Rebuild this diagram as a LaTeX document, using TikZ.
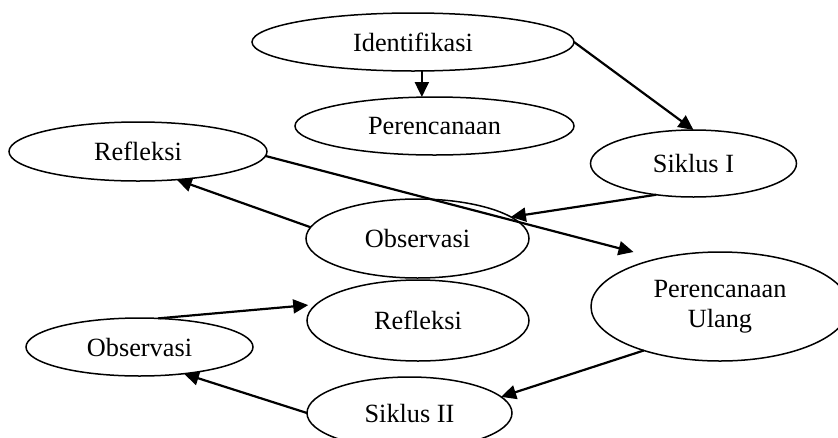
\documentclass[tikz,border=0pt]{standalone}
\usepackage{fontspec}
\setmainfont{Liberation Serif}
\usetikzlibrary{arrows.meta,shapes.geometric}
\begin{document}
\begin{tikzpicture}[x=1pt,y=-1pt,
  ell/.style={draw, ellipse, line width=1.5pt, inner sep=0pt, outer sep=0pt,
    font=\fontsize{26.3}{30.5}\selectfont, align=center},
  arr/.style={line width=2.2pt, -{Triangle[length=15pt,width=14pt]}}]
\clip (0,0) rectangle (838,437);
\node[ell, minimum width=322pt, minimum height=58pt] (ident) at (413,42) {Identifikasi};
\node[ell, minimum width=279pt, minimum height=58pt] (peren) at (434.5,126) {Perencanaan};
\node[ell, minimum width=258pt, minimum height=59pt] (refl1) at (138,151.5) {Refleksi};
\node[ell, minimum width=206pt, minimum height=67pt] (s1) at (693.5,163.5) {Siklus I};
\node[ell, minimum width=223pt, minimum height=79pt] (obs1) at (417.5,238.5) {Observasi};
\node[ell, minimum width=258pt, minimum height=109pt] (pu) at (720,306.5) {Perencanaan\\Ulang};
\node[ell, minimum width=222pt, minimum height=81pt] (refl2) at (418,320.5) {Refleksi};
\node[ell, minimum width=227pt, minimum height=58pt] (obs2) at (139.5,347) {Observasi};
\node[ell, minimum width=205pt, minimum height=72pt] (s2) at (409.5,413) {Siklus II};

\draw[arr] (ident.-73) -- (ident.-73 |- peren.north);
\draw[arr] (ident.east) -- (s1.north);
\draw[arr] (s1.220) -- (obs1.13);
\draw[arr] (obs1.174) -- (refl1.-36);
\draw[arr, shorten >=26pt] (refl1.-2) -- (pu.142);
\draw[arr] (pu.210) -- (s2.10);
\draw[arr] (s2.west) -- (obs2.-31);
\draw[arr, shorten >=8pt] (obs2.57) -- (refl2.171);
\end{tikzpicture}
\end{document}
